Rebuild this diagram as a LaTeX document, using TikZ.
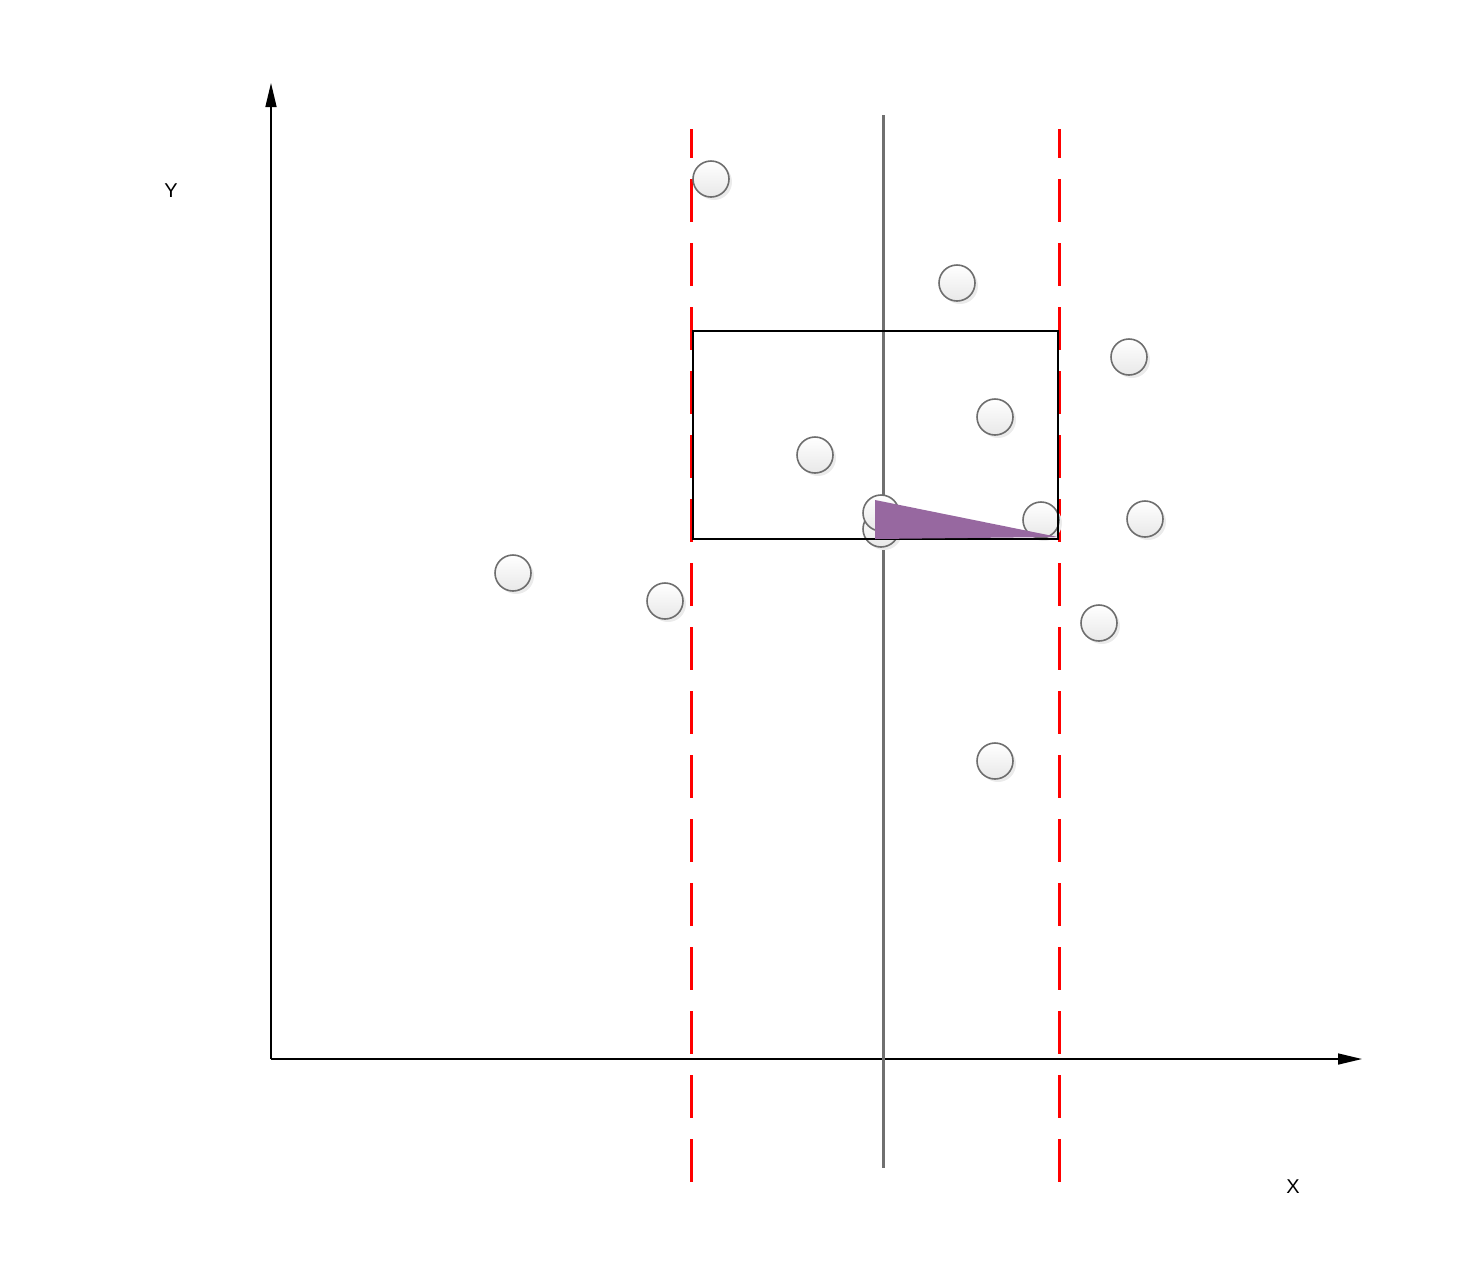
\documentclass[tikz,border=0pt]{standalone}
\usepackage{fontspec}
\setmainfont{Liberation Sans}
\usetikzlibrary{arrows.meta}
\definecolor{purp}{RGB}{151,104,160}
\definecolor{ringgray}{RGB}{110,110,110}
\definecolor{axgray}{RGB}{112,112,112}
\begin{document}
\begin{tikzpicture}[x=1pt,y=-1pt,
  pt/.style={circle,minimum size=36pt,inner sep=0pt,draw=ringgray,line width=1.6pt,
    top color=white,bottom color=black!9},
  shad/.style={circle,minimum size=36pt,inner sep=0pt,fill=black!8},
  reddash/.style={red,line width=3pt,dash pattern=on 43pt off 21pt},
  axis/.style={black,line width=1.5pt,-{Triangle[length=24pt,width=11pt]}},
  lbl/.style={font=\fontsize{20}{22}\selectfont}]
\useasboundingbox (0,0) rectangle (1458,1278);
% axes
\coordinate (O) at (271,1059);
\coordinate (YT) at (271,83);
\coordinate (XT) at (1362,1059);
\draw[axis] (O) -- (YT);
\draw[axis] (O) -- (XT);
\node[lbl] (ylab) at (171,191) {Y};
\node[lbl] (xlab) at (1293,1187) {X};
% center gray line
\coordinate (g1) at (883,115);
\coordinate (g2) at (883,1168);
\draw[axgray,line width=3pt] (g1) -- (g2);
% red dashed lines
\coordinate (r1a) at (691,129);
\coordinate (r1b) at (691,1182);
\coordinate (r2a) at (1059,129);
\coordinate (r2b) at (1059,1182);
\draw[reddash,dash phase=14pt] (r1a) -- (r1b);
\draw[reddash,dash phase=14pt] (r2a) -- (r2b);
% points
\foreach \n/\x/\y in {p1/711/179,p2/957/283,p3/1129/357,p4/995/417,p5/815/455,
  p6/881/529,p7/881/513,p8/1041/520,p9/1145/519,p10/513/573,p11/665/601,p12/1099/623,p13/995/761}{
  \node[shad] (\n s) at (\x+3,\y+3) {};
  \node[pt] (\n) at (\x,\y) {};
}
% rectangle
\coordinate (ra) at (693,331);
\coordinate (rb) at (1058,539);
\draw[black,line width=1.5pt] (ra) rectangle (rb);
% purple triangle
\coordinate (t1) at (875,500);
\coordinate (t2) at (875,539);
\coordinate (t3) at (1058,537);
\fill[purp] (t1) -- (t3) -- (t2) -- cycle;
\end{tikzpicture}
\end{document}
